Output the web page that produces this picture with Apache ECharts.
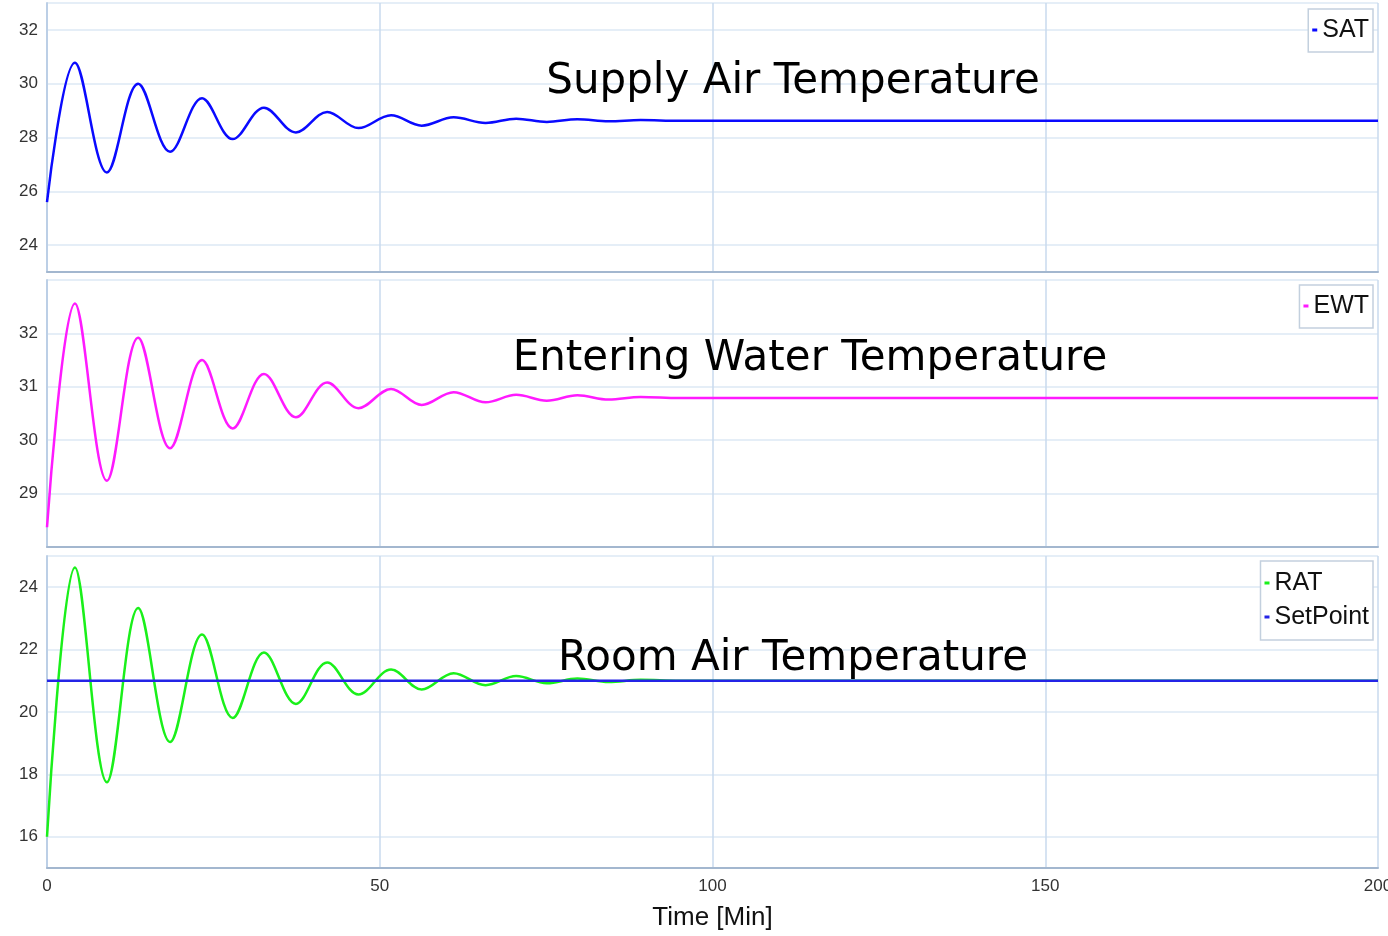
<!DOCTYPE html>
<html style="height: 100%;">
  <head>
    <meta charset="utf-8" />
    <script
      type="text/javascript"
      src="https://cdn.jsdelivr.net/npm/echarts/dist/echarts.min.js"
    ></script>
  </head>
  <body style="height: 100%; margin: 0; background: #fff;">
    <div id="container" style="width: 1388px; height: 936px;"></div>

    <script type="text/javascript">
      // time [min] of the points (start, then peaks and troughs)
      var time = [0, 4.2, 9.0, 13.7, 18.5, 23.3, 27.9, 32.6, 37.4, 42.1, 46.8, 51.7, 56.3, 61.1, 65.9, 70.5, 75.1, 79.7, 84.4, 89.2, 95, 100, 110, 120, 130, 140, 150, 160, 170, 180, 190, 200];

      var SAT = [25.6, 30.78, 26.7, 30.0, 27.47, 29.46, 27.94, 29.11, 28.19, 28.95, 28.35, 28.83, 28.44, 28.75, 28.54, 28.7, 28.58, 28.68, 28.6, 28.65, 28.62, 28.62, 28.62, 28.62, 28.62, 28.62, 28.62, 28.62, 28.62, 28.62, 28.62, 28.62];

      var EWT = [28.37, 32.56, 29.24, 31.92, 29.85, 31.5, 30.22, 31.24, 30.43, 31.08, 30.6, 30.96, 30.66, 30.9, 30.71, 30.85, 30.74, 30.84, 30.76, 30.81, 30.79, 30.79, 30.79, 30.79, 30.79, 30.79, 30.79, 30.79, 30.79, 30.79, 30.79, 30.79];

      var RAT = [16.0, 24.63, 17.75, 23.33, 19.04, 22.48, 19.81, 21.91, 20.26, 21.59, 20.56, 21.36, 20.72, 21.24, 20.86, 21.15, 20.92, 21.07, 20.96, 21.03, 21.0, 21.0, 21.0, 21.0, 21.0, 21.0, 21.0, 21.0, 21.0, 21.0, 21.0, 21.0];

      var setPointTime = [0, 200];
      var setPoint = [21, 21];

      var titles = ["Supply Air Temperature", "Entering Water Temperature", "Room Air Temperature"];
      var yMin = [23, 28, 15];
      var yMax = [33, 33, 25];
      var xTicks = [0, 50, 100, 150, 200];

      function pairs(xs, ys) {
        return xs.map(function (x, i) {
          return [x, ys[i]];
        });
      }

      var dom = document.getElementById("container");
      var myChart = echarts.init(dom);

      var gridPos = [
        { top: 3, height: 269 },
        { top: 280, height: 267 },
        { top: 556, height: 312 },
      ];

      var xAxes = gridPos.map(function (g, i) {
        return {
          type: "value",
          gridIndex: i,
          min: xTicks[0],
          max: xTicks[xTicks.length - 1],
          interval: 50,
          axisLine: { show: true, lineStyle: { color: "#a3b7cf", width: 2 } },
          axisTick: { show: false },
          axisLabel: {
            show: i === 2,
            fontFamily: "Liberation Sans",
            fontSize: 17,
            color: "#333",
            margin: 10,
          },
          splitLine: { show: true, lineStyle: { color: "#c9daee", width: 1.5 } },
          name: i === 2 ? "Time [Min]" : "",
          nameLocation: "middle",
          nameGap: 37,
          nameTextStyle: { fontFamily: "Liberation Sans", fontSize: 26, color: "#111" },
        };
      });

      var yAxes = gridPos.map(function (g, i) {
        return {
          type: "value",
          gridIndex: i,
          min: yMin[i],
          max: yMax[i],
          splitNumber: 5,
          axisLine: { show: true, lineStyle: { color: "#bccfe6", width: 2 } },
          axisTick: { show: false },
          axisLabel: {
            showMinLabel: false,
            showMaxLabel: false,
            fontFamily: "Liberation Sans",
            fontSize: 17,
            color: "#333",
            margin: 9,
          },
          splitLine: { show: true, lineStyle: { color: "#dde8f5", width: 1.5 } },
        };
      });

      var legendBase = {
        orient: "vertical",
        right: 15,
        icon: "rect",
        itemWidth: 5,
        itemHeight: 3,
        itemGap: 4,
        backgroundColor: "#fff",
        borderColor: "#c3d0de",
        borderWidth: 1.5,
        textStyle: { fontFamily: "Liberation Sans", fontSize: 25, color: "#111", lineHeight: 30 },
      };

      option = {
        backgroundColor: "#fff",
        animation: false,
        grid: gridPos.map(function (g) {
          return { left: 47, right: 10, top: g.top, height: g.height, outerBoundsMode: "none" };
        }),
        xAxis: xAxes,
        yAxis: yAxes,
        legend: [
          Object.assign({}, legendBase, { data: ["SAT"], top: 9, padding: [6, 4, 7, 4] }),
          Object.assign({}, legendBase, { data: ["EWT"], top: 285, padding: [6, 4, 7, 4] }),
          Object.assign({}, legendBase, { data: ["RAT", "SetPoint"], top: 561, padding: [7, 4, 8, 4] }),
        ],
        graphic: [
          { type: "text", x: 793, y: 82, style: { text: titles[0] } },
          { type: "text", x: 810, y: 359, style: { text: titles[1] } },
          { type: "text", x: 793, y: 659, style: { text: titles[2] } },
        ].map(function (t) {
          t.z = 100;
          t.style.fontFamily = "DejaVu Sans";
          t.style.fontSize = 42;
          t.style.fill = "#000";
          t.style.align = "center";
          t.style.verticalAlign = "middle";
          return t;
        }),
        series: [
          {
            name: "SAT",
            type: "line",
            xAxisIndex: 0,
            yAxisIndex: 0,
            color: "#0a0aff",
            smooth: 0.36,
            showSymbol: false,
            lineStyle: { width: 2.5 },
            data: pairs(time, SAT),
          },
          {
            name: "EWT",
            type: "line",
            xAxisIndex: 1,
            yAxisIndex: 1,
            color: "#ff1aff",
            smooth: 0.36,
            showSymbol: false,
            lineStyle: { width: 2.5 },
            data: pairs(time, EWT),
          },
          {
            name: "SetPoint",
            type: "line",
            xAxisIndex: 2,
            yAxisIndex: 2,
            color: "#2424e6",
            showSymbol: false,
            z: 3,
            lineStyle: { width: 2.5 },
            data: pairs(setPointTime, setPoint),
          },
          {
            name: "RAT",
            type: "line",
            xAxisIndex: 2,
            yAxisIndex: 2,
            color: "#1af01a",
            smooth: 0.36,
            showSymbol: false,
            z: 2,
            lineStyle: { width: 2.5 },
            data: pairs(time, RAT),
          },
        ],
      };
      myChart.setOption(option, true);
    </script>
  </body>
</html>
